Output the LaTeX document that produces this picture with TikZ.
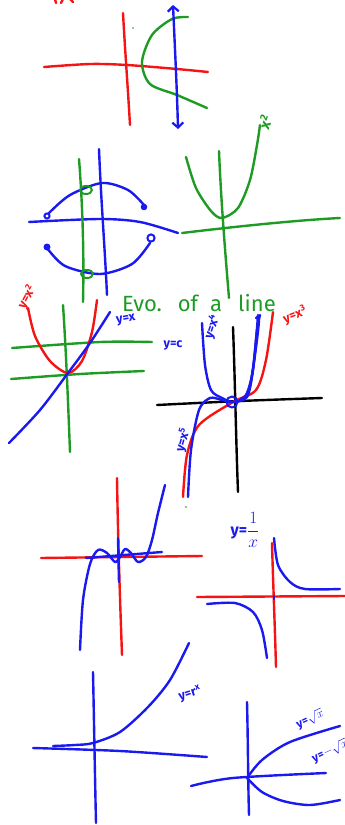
\documentclass[tikz,border=0pt]{standalone}
\usepackage{fontspec}
\setsansfont{Fira Sans}
\usetikzlibrary{arrows.meta}
\definecolor{pr}{RGB}{245,20,20}
\definecolor{pg}{RGB}{30,155,35}
\definecolor{pb}{RGB}{25,25,240}
\begin{document}
\begin{tikzpicture}[x=1pt,y=-1pt,line cap=round,line join=round,
  pen/.style={line width=2.4pt},
  lab/.style={inner sep=0pt,font=\sffamily\bfseries\fontsize{12.5}{12.5}\selectfont},
  barb/.style={{Straight Barb[length=5pt,width=11pt,line width=2.2pt]}-{Straight Barb[length=5pt,width=11pt,line width=2.2pt]}}]
\useasboundingbox (0,0) rectangle (345,825);

% --- top fragments
\draw[pen,pr] (55,-1) -- (56,3);
\draw[pen,pr] (63,-1) -- (61,3);
\draw[pen,pr] (70,-1) -- (73,2);
\fill[pg] (133,28) circle (0.8);
\fill[pg] (186,507) circle (0.8);

% --- graph 1: sideways parabola
\draw[pen,pr] plot[smooth] coordinates {(44,67) (90,64) (127,65) (177,69) (208,72)};
\draw[pen,pr] (123,13) .. controls (125,50) and (128,90) .. (130,125);
\draw[pen,pg] plot[smooth] coordinates {(188,17) (172,19) (152,35) (142,62) (150,84) (177,95) (207,108)};
\draw[pen,pb,barb] (173,5) .. controls (175,50) and (177,90) .. (178,129);

% --- graph 2: circle split into arcs
\draw[pen,pb] plot[smooth] coordinates {(29,222) (100,219) (140,222) (178,233)};
\draw[pen,pb] (99,149) .. controls (101,200) and (105,250) .. (107,295);
\draw[pen,pg] (79,159) .. controls (83,210) and (84,260) .. (83,302);
\draw[pen,pb] plot[smooth] coordinates {(49,213) (70,195) (102,183) (128,190) (144,205)};
\draw[pen,pb] plot[smooth] coordinates {(47,248) (65,266) (100,274) (132,264) (150,243)};
\draw[line width=2pt,pb,fill=white] (47,216) circle (2.6);
\fill[pb] (144,207) circle (3.3);
\fill[pb] (47,247) circle (3.5);
\draw[line width=2pt,pb,fill=white] (151,238) circle (3.6);
\draw[line width=2pt,pg] (86,190) ellipse (6 and 4);
\draw[line width=2pt,pg] (87,274) ellipse (6 and 4);

% --- green parabola
\draw[pen,pg] plot[smooth] coordinates {(186,157) (196,188) (211,211) (222,218) (238,208) (250,180) (257,145) (260,125)};
\draw[pen,pg] (219,151) .. controls (221,200) and (225,250) .. (229,298);
\draw[pen,pg] (182,233) .. controls (240,226) and (300,220) .. (340,218);
\node[lab,pg,rotate=70,font=\sffamily\bfseries\fontsize{15}{15}\selectfont] (lx2) at (265,122) {x\textsuperscript{2}};

% --- graph 3: y=c, y=x, y=x^2
\draw[pen,pg] (63,305) .. controls (66,350) and (68,400) .. (70,452);
\draw[pen,pg] plot[smooth] coordinates {(12,348) (100,342) (152,342)};
\draw[pen,pg] plot[smooth] coordinates {(11,379) (80,374) (144,371)};
\draw[pen,pr] plot[smooth] coordinates {(28,308) (35,336) (50,361) (68,373) (82,361) (92,332) (97,300)};
\draw[pen,pb] plot[smooth] coordinates {(9,443) (40,410) (68,373) (90,343) (110,312)};
\node[lab,pb] (lc) at (173,345) {y=c};
\node[lab,pb,rotate=10] (lyx) at (126,320) {y=x};
\node[lab,pr,rotate=62] (lyx2) at (27,297) {y=x\textsuperscript{2}};

% --- title
\begin{scope}[every node/.style={pg,inner sep=0pt,anchor=base,font=\sffamily\fontsize{22}{22}\selectfont}]
\node (t1) at (142,311) {Evo.};
\node (t2) at (188,311) {of};
\node (t3) at (216,311) {a};
\node (t4) at (257,311) {line};
\end{scope}

% --- graph 4: powers
\draw[pen,black] plot[smooth] coordinates {(157,405) (240,401) (322,398)};
\draw[pen,black] (233,327) .. controls (235,380) and (236,440) .. (238,492);
\draw[pen,pr] plot[smooth] coordinates {(183,497) (187,455) (199,425) (233,402) (256,390) (266,360) (273,312)};
\draw[pen,pb] plot[smooth] coordinates {(202,323) (205,365) (211,390) (222,398) (233,402) (245,397) (252,375) (256,340) (258,315)};
\draw[pen,pb] plot[smooth] coordinates {(188,497) (191,450) (199,410) (210,398) (222,400) (233,402) (247,397) (253,370) (257,330) (260,315)};
\draw[pen,pb] plot[smooth] coordinates {(240,400) (249,390) (255,355) (259,320) (256,318)};
\draw[line width=2pt,pb] (232,402) circle (5.5);
\node[lab,pb,rotate=72] (lx4) at (212,327) {y=x\textsuperscript{4}};
\node[lab,pr,rotate=22] (lx3) at (295,315) {y=x\textsuperscript{3}};
\node[lab,pb,rotate=75] (lx5) at (183,440) {y=x\textsuperscript{5}};

% --- graph 5: polynomial
\draw[pen,pr] plot[smooth] coordinates {(41,558) (120,557) (202,556)};
\draw[pen,pr] (117,478) .. controls (118,540) and (120,600) .. (122,655);
\draw[pen,pb] (118,538) -- (119,582);
\draw[pen,pb] (86,558) -- (162,552);
\draw[pen,pb] plot[smooth] coordinates {(80,650) (83,600) (90,564) (98,550) (107,553) (115,562) (120,557) (125,549) (131,553) (138,562) (146,557) (152,540) (158,513) (165,485)};

% --- graph 6: hyperbola
\draw[pen,pr] (197,597) -- (345,596);
\draw[pen,pr] (272,543) .. controls (273,580) and (275,630) .. (276,667);
\draw[pen,pb] plot[smooth] coordinates {(274,538) (278,565) (290,582) (305,589) (340,589)};
\draw[pen,pb] plot[smooth] coordinates {(207,604) (235,603) (253,612) (262,630) (267,658)};
\draw[line width=2pt,pb] (274,596) -- (274,599);
\node[lab,pb,font=\sffamily\bfseries\fontsize{16}{16}\selectfont] (lhyp) at (245,530) {y=$\displaystyle\frac{1}{x}$};

% --- graph 7: exponential
\draw[pen,pb] (93,672) .. controls (94,720) and (95,780) .. (96,823);
\draw[pen,pb] plot[smooth] coordinates {(33,748) (120,751) (207,757)};
\draw[pen,pb] plot[smooth] coordinates {(53,746) (75,745) (93,743) (120,732) (148,707) (170,680) (189,643)};
\node[lab,pb,rotate=18] (lexp) at (190,694) {y=r\textsuperscript{x}};

% --- graph 8: square root
\draw[pen,pb] (247,702) .. controls (248,740) and (248,780) .. (249,815);
\draw[pen,pb] plot[smooth] coordinates {(191,786) (233,778) (326,773)};
\draw[pen,pb] plot[smooth] coordinates {(247,778) (262,760) (290,742) (340,726)};
\draw[pen,pb] plot[smooth] coordinates {(247,778) (262,792) (283,801) (310,805) (340,800)};
\node[lab,pb,rotate=25,font=\sffamily\bfseries\fontsize{11.5}{11.5}\selectfont] (lsq) at (310,719) {y=$\sqrt{x}$};
\node[lab,pb,rotate=25,font=\sffamily\bfseries\fontsize{11.5}{11.5}\selectfont] (lnsq) at (330,751) {y=$-\sqrt{x}$};
\end{tikzpicture}
\end{document}
